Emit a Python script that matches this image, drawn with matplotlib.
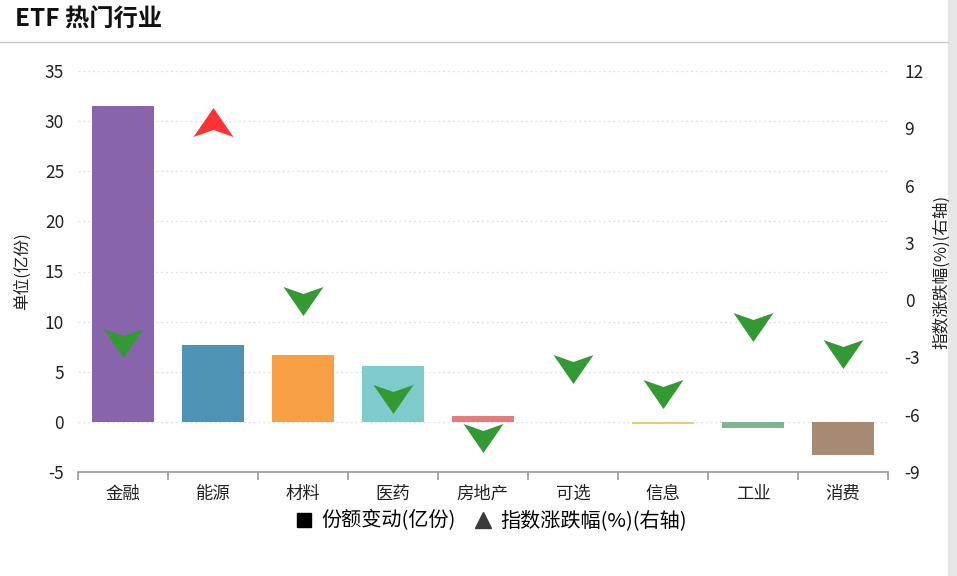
import matplotlib
matplotlib.use("Agg")
import matplotlib.pyplot as plt
from matplotlib.path import Path
from matplotlib.lines import Line2D
from matplotlib.patches import Rectangle

plt.rcParams['font.family'] = ['Noto Sans CJK SC', 'DejaVu Sans']
plt.rcParams['axes.unicode_minus'] = False

categories = ['金融', '能源', '材料', '医药', '房地产', '可选', '信息', '工业', '消费']
share_change = [31.5, 7.7, 6.7, 5.6, 0.6, 0.0, -0.2, -0.6, -3.35]
index_change = [-2.25, 9.35, -0.05, -5.2, -7.2, -3.6, -4.9, -1.4, -2.8]
bar_colors = ['#8764ab', '#4e92b4', '#f79f43', '#7ecbcb', '#e57c7c',
              '#5fb7a2', '#e8cd6f', '#80b38f', '#a68a74']
left_ticks = [-5, 0, 5, 10, 15, 20, 25, 30, 35]
right_ticks = [-9, -6, -3, 0, 3, 6, 9, 12]

W, H = 957, 576
fig = plt.figure(figsize=(W / 100, H / 100), dpi=100)
ax = fig.add_axes([78 / W, 1 - 472 / H, 810 / W, 401 / H])
ax2 = ax.twinx()

x = list(range(len(categories)))
ax.bar(x, share_change, width=0.69, color=bar_colors, zorder=2)

ax.set_xlim(-0.5, len(categories) - 0.5)
ax.set_ylim(-5, 35)
ax.set_yticks(left_ticks)
ax2.set_ylim(-9, 12)
ax2.set_yticks(right_ticks)

for v in left_ticks[1:]:
    ax.axhline(v, color='#dde3ee', lw=1, ls=(0, (1.5, 2)), zorder=0)

for a in (ax, ax2):
    for s in ('top', 'left', 'right', 'bottom'):
        a.spines[s].set_visible(False)
ax.spines['bottom'].set_visible(True)
ax.spines['bottom'].set_color('#999999')
ax.spines['bottom'].set_linewidth(1.2)

ax.set_xticks(x)
ax.set_xticklabels(categories, fontsize=12.5, color='#222222')
ax.set_xticks([i - 0.5 for i in range(len(categories) + 1)], minor=True)
ax.tick_params(axis='x', which='major', length=0, pad=9)
ax.tick_params(axis='x', which='minor', length=6, color='#999999', width=1.2)
ax.tick_params(axis='y', length=0, pad=10, labelsize=12.5, labelcolor='#222222')
ax2.tick_params(axis='y', length=0, pad=12, labelsize=12.5, labelcolor='#222222')

ax.set_ylabel('单位(亿份)', fontsize=12, color='#222222')
ax.yaxis.set_label_coords(-0.058, 0.5)
ax2.set_ylabel('指数涨跌幅(%)(右轴)', fontsize=12, color='#222222', rotation=90)
ax2.yaxis.set_label_coords(1.055, 0.5)

# arrow marker (ECharts style)
arrow_up = Path([(0, 14.5), (20, -14.5), (0, -7.5), (-20, -14.5), (0, 14.5)],
                [Path.MOVETO, Path.LINETO, Path.LINETO, Path.LINETO, Path.CLOSEPOLY])
arrow_down = Path([(0, -14.5), (20, 14.5), (0, 7.5), (-20, 14.5), (0, -14.5)],
                  [Path.MOVETO, Path.LINETO, Path.LINETO, Path.LINETO, Path.CLOSEPOLY])
for xi, v in zip(x, index_change):
    if v > 0:
        ax2.plot([xi], [v], marker=arrow_up, markersize=28.8, color='#ff3333',
                 markeredgewidth=0, ls='none', zorder=3)
    else:
        ax2.plot([xi], [v], marker=arrow_down, markersize=28.8, color='#339933',
                 markeredgewidth=0, ls='none', zorder=3)
ax2.set_zorder(ax.get_zorder() + 1)
ax2.patch.set_visible(False)

# legend
handles = [Line2D([], [], marker='s', color='black', ls='none', markersize=10),
           Line2D([], [], marker='^', color='#3a3a3a', ls='none', markersize=11)]
fig.legend(handles, ['份额变动(亿份)', '指数涨跌幅(%)(右轴)'], loc='center',
           bbox_to_anchor=(490 / W, 1 - 521 / H), ncol=2, frameon=False,
           fontsize=14.5, handletextpad=0.3, columnspacing=0.8, handlelength=1.1)

# title and header line
fig.text(15 / W, 1 - 20 / H, 'ETF 热门行业', fontsize=17.5, fontweight='bold',
         va='center', ha='left', color='#111111')
fig.add_artist(Line2D([0, 948 / W], [1 - 42 / H, 1 - 42 / H], color='#cccccc', lw=1))
fig.add_artist(Rectangle((948 / W, 0), 9 / W, 1, color='#e6e6e6', transform=fig.transFigure))

fig.savefig('out.png', dpi=100)
